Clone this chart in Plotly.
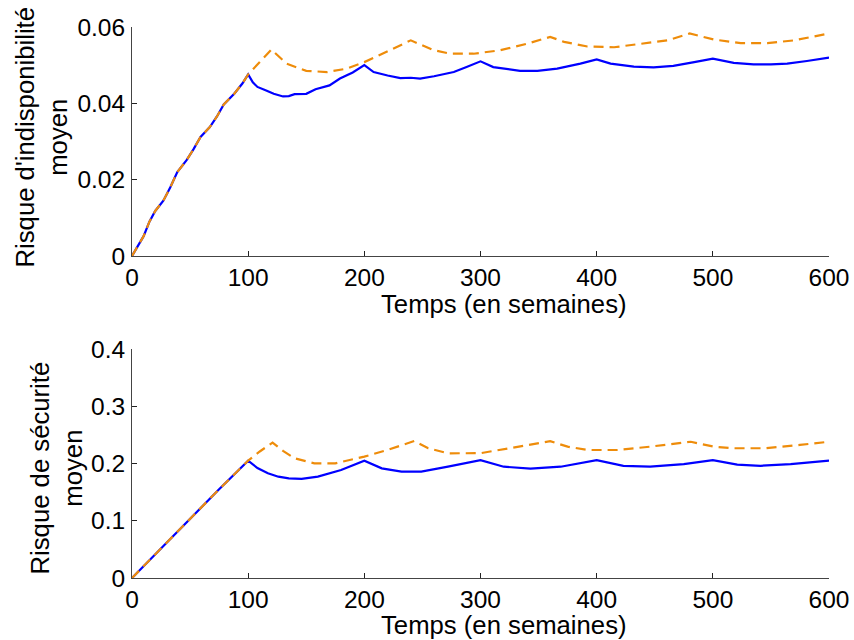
import plotly.graph_objects as go

# ---- data ----
top_blue_x = [0, 5, 10, 15, 20, 27, 33, 39, 47, 53, 59, 67, 73, 79, 88, 95, 100, 104, 108, 116, 122, 130, 135, 140, 150, 158, 170, 179, 190, 200,
              208, 220, 231, 240, 248, 260, 277, 288, 300, 311, 326, 334, 349, 366, 386, 400, 412, 432, 449, 466, 484, 500, 518, 535, 550, 564, 581, 600]
top_blue_y = [0, 0.0025, 0.0052, 0.009, 0.0118, 0.0145, 0.018, 0.022, 0.0251, 0.028, 0.0312, 0.0338, 0.0365, 0.0397, 0.0425, 0.0452, 0.0476,
              0.0455, 0.0443, 0.0433, 0.0425, 0.0418, 0.0419, 0.0424, 0.0425, 0.0437, 0.0447, 0.0465, 0.0481, 0.0500,
              0.0482, 0.0473, 0.0466, 0.0467, 0.0465, 0.0471, 0.0482, 0.0495, 0.0510, 0.0495, 0.0488, 0.0485, 0.0485, 0.0491, 0.0504, 0.0515,
              0.0504, 0.0496, 0.0494, 0.0498, 0.0508, 0.0517, 0.0506, 0.0502, 0.0502, 0.0504, 0.0511, 0.0520]

top_orange_x = [0, 5, 10, 15, 20, 27, 33, 39, 47, 53, 59, 67, 73, 79, 88, 95, 100, 110, 120, 133, 150, 168, 185, 200, 216, 231, 240, 260, 274, 294,
                317, 340, 360, 372, 392, 415, 438, 461, 480, 501, 524, 547, 570, 600]
top_orange_y = [0, 0.0025, 0.0052, 0.009, 0.0118, 0.0145, 0.018, 0.022, 0.0251, 0.028, 0.0312, 0.0338, 0.0365, 0.0397, 0.0425, 0.0452, 0.0476,
                0.0508, 0.0541, 0.0504, 0.0485, 0.0482, 0.0491, 0.0508, 0.0530, 0.0552, 0.0565, 0.0539, 0.0530, 0.0530,
                0.0539, 0.0556, 0.0574, 0.0561, 0.0549, 0.0547, 0.0555, 0.0565, 0.0583, 0.0567, 0.0558, 0.0558, 0.0565, 0.0583]

bot_blue_x = [0, 25, 50, 75, 100, 108, 117, 126, 135, 146, 160, 180, 200, 215, 232, 249, 272, 300, 320, 343, 369, 400, 423, 446, 475, 500, 521, 541, 567, 600]
bot_blue_y = [0, 0.052, 0.104, 0.155, 0.205, 0.192, 0.183, 0.177, 0.174, 0.173, 0.177, 0.1886, 0.205, 0.1915, 0.1857, 0.1857, 0.1945, 0.206,
              0.1944, 0.191, 0.1944, 0.206, 0.196, 0.1944, 0.199, 0.206, 0.198, 0.196, 0.199, 0.205]

bot_orange_x = [0, 25, 50, 75, 100, 110, 121, 130, 140, 157, 175, 200, 220, 243, 255, 272, 300, 331, 360, 375, 392, 418, 446, 481, 501, 518, 544, 575, 600]
bot_orange_y = [0, 0.052, 0.104, 0.155, 0.205, 0.221, 0.2365, 0.222, 0.209, 0.2003, 0.2003, 0.212, 0.2236, 0.2394, 0.2266, 0.2178, 0.218,
                0.2294, 0.239, 0.2294, 0.2236, 0.2236, 0.2294, 0.238, 0.2294, 0.2266, 0.2266, 0.2324, 0.238]

x_ticks = [0, 100, 200, 300, 400, 500, 600]
top_y_ticks = [0, 0.02, 0.04, 0.06]
top_y_labels = ["0", "0.02", "0.04", "0.06"]
bot_y_ticks = [0, 0.1, 0.2, 0.3, 0.4]
bot_y_labels = ["0", "0.1", "0.2", "0.3", "0.4"]

BLUE = "#0000FF"
ORANGE = "#EE8C0A"
FONT = "Liberation Sans, Arial, Helvetica, sans-serif"
W, H = 854, 640


def px(x):
    return x / W


def py(y):
    return 1 - y / H


fig = go.Figure()
fig.add_trace(go.Scatter(x=top_blue_x, y=top_blue_y, mode="lines", line=dict(color=BLUE, width=2.2), xaxis="x", yaxis="y", showlegend=False))
fig.add_trace(go.Scatter(x=top_orange_x, y=top_orange_y, mode="lines", line=dict(color=ORANGE, width=2.2, dash="10px,6px"), xaxis="x", yaxis="y", showlegend=False))
fig.add_trace(go.Scatter(x=bot_blue_x, y=bot_blue_y, mode="lines", line=dict(color=BLUE, width=2.2), xaxis="x2", yaxis="y2", showlegend=False))
fig.add_trace(go.Scatter(x=bot_orange_x, y=bot_orange_y, mode="lines", line=dict(color=ORANGE, width=2.2, dash="10px,6px"), xaxis="x2", yaxis="y2", showlegend=False))

xdom = [px(132), px(829)]
top_dom = [py(256), py(27)]
bot_dom = [py(578), py(349)]

axis_common = dict(showline=True, linecolor="#444444", linewidth=1, ticks="inside", ticklen=5, tickcolor="#222222",
                   showgrid=False, zeroline=False, tickfont=dict(family=FONT, size=24.5, color="black"), automargin=False,
                   ticklabeloverflow="allow")

fig.update_layout(
    width=W, height=H, margin=dict(l=0, r=0, t=0, b=0),
    paper_bgcolor="white", plot_bgcolor="white",
    font=dict(family=FONT, color="black"),
    xaxis=dict(domain=xdom, anchor="y", range=[0, 600], tickvals=x_ticks, ticklabelstandoff=0, **axis_common),
    yaxis=dict(domain=top_dom, anchor="x", range=[0, 0.06], tickvals=top_y_ticks, ticktext=top_y_labels, ticklabelstandoff=1, **axis_common),
    xaxis2=dict(domain=xdom, anchor="y2", range=[0, 600], tickvals=x_ticks, ticklabelstandoff=0, **axis_common),
    yaxis2=dict(domain=bot_dom, anchor="x2", range=[0, 0.4], tickvals=bot_y_ticks, ticktext=bot_y_labels, ticklabelstandoff=1, **axis_common),
)

title_font = dict(family=FONT, size=25.7, color="black")
fig.add_annotation(text="Temps (en semaines)", x=px(504), y=py(304), xref="paper", yref="paper",
                   showarrow=False, font=title_font, xanchor="center", yanchor="middle")
fig.add_annotation(text="Temps (en semaines)", x=px(504), y=py(625), xref="paper", yref="paper",
                   showarrow=False, font=title_font, xanchor="center", yanchor="middle")
fig.add_annotation(text="Risque d'indisponibilité<br>moyen", x=px(40.5), y=py(137), xref="paper", yref="paper",
                   showarrow=False, font=title_font, textangle=-90, xanchor="center", yanchor="middle")
fig.add_annotation(text="Risque de sécurité<br>moyen", x=px(55.5), y=py(468), xref="paper", yref="paper",
                   showarrow=False, font=title_font, textangle=-90, xanchor="center", yanchor="middle")

# remove the default 8px page margin so the 854x640 figure fills the window exactly
fig.write_html("out.html", config={"displayModeBar": False},
               post_script="document.body.style.margin='0';document.body.style.overflow='hidden';")
